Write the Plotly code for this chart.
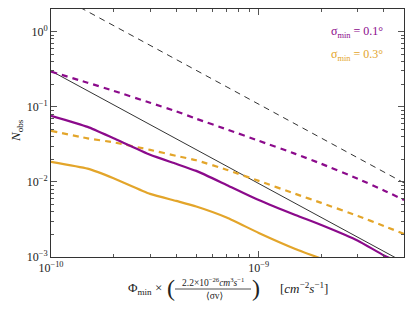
import plotly.graph_objects as go

# ---- data ----
x_pts = [1e-10, 1.5e-10, 2e-10, 3e-10, 4e-10, 5e-10, 7e-10, 1e-9, 1.5e-9, 2e-9, 3e-9, 4e-9, 5e-9]

purple_dashed = [0.293, 0.209, 0.163, 0.113, 0.0871, 0.0692, 0.0501, 0.0352, 0.0236, 0.0174, 0.0110, 0.0077, 0.00575]
orange_dashed = [0.0479, 0.038, 0.0336, 0.0267, 0.0222, 0.0194, 0.0145, 0.0103, 0.00692, 0.00525, 0.00352, 0.00259, 0.00203]
purple_solid = [0.0759, 0.0540, 0.0380, 0.0229, 0.0174, 0.0140, 0.00912, 0.00575, 0.00363, 0.00267, 0.00165, 0.00105, 0.0008]
orange_solid = [0.0185, 0.0150, 0.0112, 0.00692, 0.00558, 0.00471, 0.00336, 0.00209, 0.00128, 0.00095]

black_x = [1e-10, 5e-9]
black_solid = [0.30, 0.00085]
black_dashed = [3.4, 0.0097]

x_tickvals = [1e-10, 1e-9]
x_ticktext = ["10<sup>−10</sup>", "10<sup>−9</sup>"]
y_tickvals = [1e-3, 1e-2, 1e-1, 1]
y_ticktext = ["10<sup>−3</sup>", "10<sup>−2</sup>", "10<sup>−1</sup>", "10<sup>0</sup>"]

PURPLE = "#8b0a8b"
ORANGE = "#e3a52a"
BLACK = "#333333"
FONT = "Liberation Serif, DejaVu Serif, serif"

fig = go.Figure()
fig.add_trace(go.Scatter(x=black_x, y=black_dashed, mode="lines",
                         line=dict(color=BLACK, width=1, dash="6px,5px")))
fig.add_trace(go.Scatter(x=black_x, y=black_solid, mode="lines",
                         line=dict(color=BLACK, width=1)))
fig.add_trace(go.Scatter(x=x_pts, y=purple_dashed, mode="lines",
                         line=dict(color=PURPLE, width=2.2, dash="6px,5px", shape="spline", smoothing=0.5)))
fig.add_trace(go.Scatter(x=x_pts, y=orange_dashed, mode="lines",
                         line=dict(color=ORANGE, width=2.2, dash="6px,5px", shape="spline", smoothing=0.5)))
fig.add_trace(go.Scatter(x=x_pts[:len(purple_solid)], y=purple_solid, mode="lines",
                         line=dict(color=PURPLE, width=2.2, shape="spline", smoothing=0.5)))
fig.add_trace(go.Scatter(x=x_pts[:len(orange_solid)], y=orange_solid, mode="lines",
                         line=dict(color=ORANGE, width=2.2, shape="spline", smoothing=0.5)))

x_minor = [m * 10.0 ** e for e in (-10, -9) for m in range(2, 10)]
y_minor = [m * 10.0 ** e for e in (-3, -2, -1, 0) for m in range(2, 10)]

axis_common = dict(type="log", showgrid=False, zeroline=False, showline=True,
                   linecolor="#333333", linewidth=1, mirror="allticks",
                   ticks="inside", ticklen=6, tickcolor="#555555", automargin=False,
                   tickfont=dict(family=FONT, size=12, color="#222222"))

fig.update_xaxes(**axis_common, range=[-10, 0.69897 - 9], tickmode="array",
                 tickvals=x_tickvals, ticktext=x_ticktext,
                 minor=dict(tickmode="array", tickvals=x_minor, ticks="inside",
                            ticklen=3, tickcolor="#555555", showgrid=False))
fig.update_yaxes(**axis_common, range=[-3, 0.30103], tickmode="array",
                 tickvals=y_tickvals, ticktext=y_ticktext,
                 minor=dict(tickmode="array", tickvals=y_minor, ticks="inside",
                            ticklen=3, tickcolor="#555555", showgrid=False))

# page body has an 8px default margin: compensate so the plot lands where it should
OFF = 8
W, H = 405, 302
L, T = 51 - OFF, 9 - OFF
pw, ph = 353, 248
R, B = W - L - pw, H - T - ph

def px(xs):
    return (xs - OFF - L) / pw

def py(ys):
    return (T + ph - (ys - OFF)) / ph

ann = []
def add(text, xs, ys, size, color="#222222", xanchor="center"):
    ann.append(dict(text=text, x=px(xs), y=py(ys), xref="paper", yref="paper",
                    xanchor=xanchor, yanchor="middle", showarrow=False,
                    font=dict(family=FONT, size=size, color=color)))

add("Φ<sub>min</sub> ×", 145, 288, 13)
add("(", 171, 288, 24)
add("2.2×10<sup>−26</sup><i>cm</i><sup>3</sup><i>s</i><sup>−1</sup>", 213, 282, 9.5)
add("⟨σv⟩", 214, 296, 9.5)
add(")", 256, 288, 24)
add("[<i>cm</i><sup>−2</sup><i>s</i><sup>−1</sup>]", 304, 288, 13)
add("<i>N</i><sub>obs</sub>", 16, 131, 13)
ann[-1]["textangle"] = -90
add("σ<sub>min</sub> = 0.1°", 357, 32, 12, PURPLE)
add("σ<sub>min</sub> = 0.3°", 357, 55, 12, ORANGE)

fig.update_layout(
    width=W, height=H, margin=dict(l=L, r=R, t=T, b=B),
    paper_bgcolor="white", plot_bgcolor="white", showlegend=False,
    annotations=ann,
    shapes=[dict(type="line", xref="paper", yref="paper",
                 x0=px(175), x1=px(251), y0=py(289), y1=py(289),
                 line=dict(color="#222222", width=0.8))],
)

fig.write_html("out.html")
